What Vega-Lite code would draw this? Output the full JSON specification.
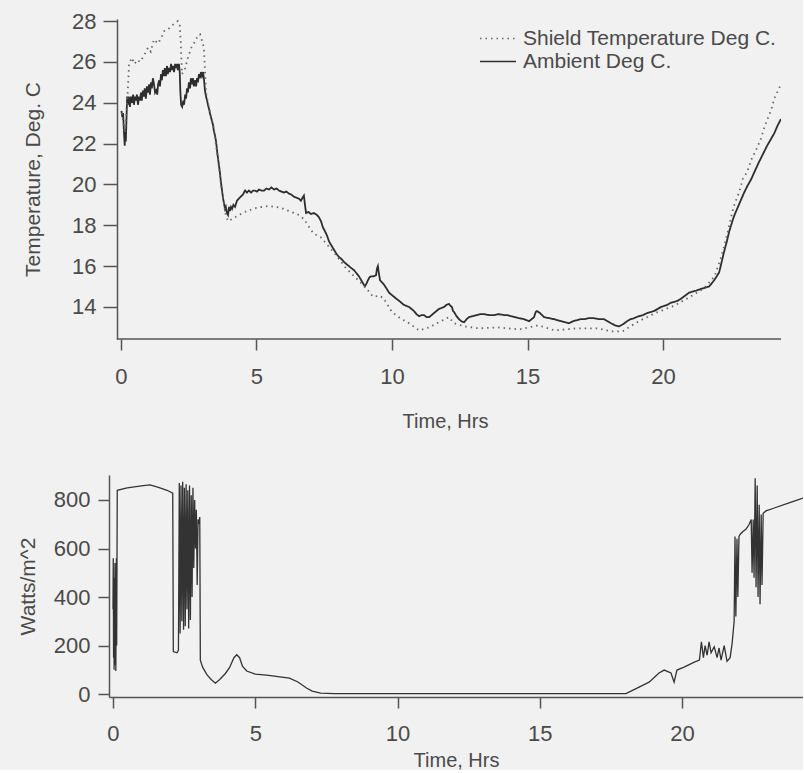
{
  "$schema": "https://vega.github.io/schema/vega-lite/v6.json",
  "background": "#f1f1f1",
  "padding": {"left": 17, "top": 10, "right": 0, "bottom": 0},
  "spacing": 44,
  "config": {
    "view": {"stroke": null},
    "font": "Liberation Sans",
    "axis": {
      "labelFont": "Liberation Sans", "titleFont": "Liberation Sans",
      "labelFontSize": 22, "titleFontSize": 20, "titleFontWeight": "normal",
      "labelColor": "#4a4a4a", "titleColor": "#4a4a4a",
      "domainColor": "#555555", "tickColor": "#555555",
      "domainWidth": 1.5, "tickWidth": 1.5, "tickSize": 11, "grid": false
    },
    "legend": {"labelFont": "Liberation Sans", "labelFontSize": 21, "labelColor": "#4a4a4a", "labelLimit": 0}
  },
  "datasets": {
    "temp": [
      {"t":0.02,"v":23.6,"s":"Ambient Deg C."},{"t":0.05,"v":23.3,"s":"Ambient Deg C."},{"t":0.08,"v":23.5,"s":"Ambient Deg C."},{"t":0.11,"v":22.6,"s":"Ambient Deg C."},{"t":0.14,"v":21.9,"s":"Ambient Deg C."},{"t":0.16,"v":22.7,"s":"Ambient Deg C."},{"t":0.18,"v":22.1,"s":"Ambient Deg C."},{"t":0.20,"v":23.0,"s":"Ambient Deg C."},{"t":0.23,"v":24.3,"s":"Ambient Deg C."},{"t":0.26,"v":23.9,"s":"Ambient Deg C."},{"t":0.29,"v":24.3,"s":"Ambient Deg C."},{"t":0.33,"v":23.8,"s":"Ambient Deg C."},{"t":0.37,"v":24.3,"s":"Ambient Deg C."},{"t":0.41,"v":24.0,"s":"Ambient Deg C."},{"t":0.45,"v":24.4,"s":"Ambient Deg C."},{"t":0.48,"v":23.9,"s":"Ambient Deg C."},{"t":0.52,"v":24.3,"s":"Ambient Deg C."},{"t":0.55,"v":24.1,"s":"Ambient Deg C."},{"t":0.59,"v":24.4,"s":"Ambient Deg C."},{"t":0.63,"v":23.9,"s":"Ambient Deg C."},{"t":0.67,"v":24.3,"s":"Ambient Deg C."},{"t":0.70,"v":24.1,"s":"Ambient Deg C."},{"t":0.74,"v":24.5,"s":"Ambient Deg C."},{"t":0.77,"v":24.1,"s":"Ambient Deg C."},{"t":0.81,"v":24.6,"s":"Ambient Deg C."},{"t":0.85,"v":24.3,"s":"Ambient Deg C."},{"t":0.88,"v":24.7,"s":"Ambient Deg C."},{"t":0.92,"v":24.2,"s":"Ambient Deg C."},{"t":0.96,"v":24.8,"s":"Ambient Deg C."},{"t":1.00,"v":24.5,"s":"Ambient Deg C."},{"t":1.04,"v":24.9,"s":"Ambient Deg C."},{"t":1.07,"v":24.4,"s":"Ambient Deg C."},{"t":1.11,"v":25.0,"s":"Ambient Deg C."},{"t":1.14,"v":24.7,"s":"Ambient Deg C."},{"t":1.18,"v":25.2,"s":"Ambient Deg C."},{"t":1.22,"v":24.9,"s":"Ambient Deg C."},{"t":1.26,"v":24.5,"s":"Ambient Deg C."},{"t":1.30,"v":24.6,"s":"Ambient Deg C."},{"t":1.34,"v":24.4,"s":"Ambient Deg C."},{"t":1.37,"v":24.9,"s":"Ambient Deg C."},{"t":1.41,"v":25.1,"s":"Ambient Deg C."},{"t":1.44,"v":24.8,"s":"Ambient Deg C."},{"t":1.48,"v":25.4,"s":"Ambient Deg C."},{"t":1.51,"v":25.1,"s":"Ambient Deg C."},{"t":1.55,"v":25.6,"s":"Ambient Deg C."},{"t":1.59,"v":25.3,"s":"Ambient Deg C."},{"t":1.62,"v":25.7,"s":"Ambient Deg C."},{"t":1.66,"v":25.3,"s":"Ambient Deg C."},{"t":1.70,"v":25.8,"s":"Ambient Deg C."},{"t":1.73,"v":25.4,"s":"Ambient Deg C."},{"t":1.77,"v":25.7,"s":"Ambient Deg C."},{"t":1.81,"v":25.5,"s":"Ambient Deg C."},{"t":1.85,"v":25.9,"s":"Ambient Deg C."},{"t":1.88,"v":25.6,"s":"Ambient Deg C."},{"t":1.92,"v":25.8,"s":"Ambient Deg C."},{"t":1.96,"v":25.5,"s":"Ambient Deg C."},{"t":2.00,"v":25.9,"s":"Ambient Deg C."},{"t":2.03,"v":25.7,"s":"Ambient Deg C."},{"t":2.07,"v":25.9,"s":"Ambient Deg C."},{"t":2.10,"v":25.6,"s":"Ambient Deg C."},{"t":2.14,"v":25.9,"s":"Ambient Deg C."},{"t":2.17,"v":25.5,"s":"Ambient Deg C."},{"t":2.19,"v":24.6,"s":"Ambient Deg C."},{"t":2.22,"v":23.9,"s":"Ambient Deg C."},{"t":2.26,"v":23.8,"s":"Ambient Deg C."},{"t":2.30,"v":24.1,"s":"Ambient Deg C."},{"t":2.33,"v":23.9,"s":"Ambient Deg C."},{"t":2.37,"v":24.4,"s":"Ambient Deg C."},{"t":2.40,"v":24.2,"s":"Ambient Deg C."},{"t":2.44,"v":24.7,"s":"Ambient Deg C."},{"t":2.47,"v":24.5,"s":"Ambient Deg C."},{"t":2.51,"v":25.0,"s":"Ambient Deg C."},{"t":2.55,"v":24.7,"s":"Ambient Deg C."},{"t":2.58,"v":25.2,"s":"Ambient Deg C."},{"t":2.62,"v":24.9,"s":"Ambient Deg C."},{"t":2.66,"v":25.2,"s":"Ambient Deg C."},{"t":2.69,"v":24.8,"s":"Ambient Deg C."},{"t":2.73,"v":25.1,"s":"Ambient Deg C."},{"t":2.77,"v":24.8,"s":"Ambient Deg C."},{"t":2.81,"v":25.2,"s":"Ambient Deg C."},{"t":2.84,"v":25.0,"s":"Ambient Deg C."},{"t":2.88,"v":25.4,"s":"Ambient Deg C."},{"t":2.92,"v":25.2,"s":"Ambient Deg C."},{"t":2.95,"v":25.5,"s":"Ambient Deg C."},{"t":2.99,"v":25.3,"s":"Ambient Deg C."},{"t":3.03,"v":25.5,"s":"Ambient Deg C."},{"t":3.06,"v":25.2,"s":"Ambient Deg C."},{"t":3.10,"v":24.6,"s":"Ambient Deg C."},{"t":3.14,"v":24.3,"s":"Ambient Deg C."},{"t":3.18,"v":24.1,"s":"Ambient Deg C."},{"t":3.21,"v":23.9,"s":"Ambient Deg C."},{"t":3.25,"v":23.7,"s":"Ambient Deg C."},{"t":3.28,"v":23.5,"s":"Ambient Deg C."},{"t":3.32,"v":23.3,"s":"Ambient Deg C."},{"t":3.36,"v":23.1,"s":"Ambient Deg C."},{"t":3.40,"v":22.9,"s":"Ambient Deg C."},{"t":3.43,"v":22.6,"s":"Ambient Deg C."},{"t":3.47,"v":22.4,"s":"Ambient Deg C."},{"t":3.51,"v":22.1,"s":"Ambient Deg C."},{"t":3.55,"v":21.6,"s":"Ambient Deg C."},{"t":3.58,"v":21.3,"s":"Ambient Deg C."},{"t":3.62,"v":20.9,"s":"Ambient Deg C."},{"t":3.65,"v":20.6,"s":"Ambient Deg C."},{"t":3.69,"v":20.1,"s":"Ambient Deg C."},{"t":3.73,"v":19.7,"s":"Ambient Deg C."},{"t":3.77,"v":19.3,"s":"Ambient Deg C."},{"t":3.80,"v":19.1,"s":"Ambient Deg C."},{"t":3.84,"v":18.8,"s":"Ambient Deg C."},{"t":3.87,"v":18.9,"s":"Ambient Deg C."},{"t":3.91,"v":18.6,"s":"Ambient Deg C."},{"t":3.95,"v":18.5,"s":"Ambient Deg C."},{"t":3.99,"v":18.9,"s":"Ambient Deg C."},{"t":4.02,"v":18.7,"s":"Ambient Deg C."},{"t":4.06,"v":18.9,"s":"Ambient Deg C."},{"t":4.10,"v":18.8,"s":"Ambient Deg C."},{"t":4.15,"v":19.0,"s":"Ambient Deg C."},{"t":4.21,"v":18.9,"s":"Ambient Deg C."},{"t":4.28,"v":19.2,"s":"Ambient Deg C."},{"t":4.35,"v":19.3,"s":"Ambient Deg C."},{"t":4.42,"v":19.4,"s":"Ambient Deg C."},{"t":4.50,"v":19.5,"s":"Ambient Deg C."},{"t":4.58,"v":19.7,"s":"Ambient Deg C."},{"t":4.65,"v":19.6,"s":"Ambient Deg C."},{"t":4.72,"v":19.7,"s":"Ambient Deg C."},{"t":4.80,"v":19.6,"s":"Ambient Deg C."},{"t":4.88,"v":19.7,"s":"Ambient Deg C."},{"t":4.94,"v":19.7,"s":"Ambient Deg C."},{"t":5.02,"v":19.65,"s":"Ambient Deg C."},{"t":5.09,"v":19.75,"s":"Ambient Deg C."},{"t":5.18,"v":19.7,"s":"Ambient Deg C."},{"t":5.28,"v":19.7,"s":"Ambient Deg C."},{"t":5.37,"v":19.8,"s":"Ambient Deg C."},{"t":5.46,"v":19.75,"s":"Ambient Deg C."},{"t":5.55,"v":19.85,"s":"Ambient Deg C."},{"t":5.65,"v":19.75,"s":"Ambient Deg C."},{"t":5.74,"v":19.8,"s":"Ambient Deg C."},{"t":5.83,"v":19.7,"s":"Ambient Deg C."},{"t":5.92,"v":19.65,"s":"Ambient Deg C."},{"t":6.01,"v":19.6,"s":"Ambient Deg C."},{"t":6.10,"v":19.65,"s":"Ambient Deg C."},{"t":6.20,"v":19.55,"s":"Ambient Deg C."},{"t":6.29,"v":19.5,"s":"Ambient Deg C."},{"t":6.38,"v":19.4,"s":"Ambient Deg C."},{"t":6.47,"v":19.35,"s":"Ambient Deg C."},{"t":6.57,"v":19.3,"s":"Ambient Deg C."},{"t":6.64,"v":19.2,"s":"Ambient Deg C."},{"t":6.70,"v":19.35,"s":"Ambient Deg C."},{"t":6.75,"v":19.45,"s":"Ambient Deg C."},{"t":6.79,"v":19.0,"s":"Ambient Deg C."},{"t":6.83,"v":18.6,"s":"Ambient Deg C."},{"t":6.92,"v":18.65,"s":"Ambient Deg C."},{"t":7.01,"v":18.55,"s":"Ambient Deg C."},{"t":7.12,"v":18.6,"s":"Ambient Deg C."},{"t":7.23,"v":18.5,"s":"Ambient Deg C."},{"t":7.30,"v":18.4,"s":"Ambient Deg C."},{"t":7.38,"v":18.2,"s":"Ambient Deg C."},{"t":7.45,"v":17.9,"s":"Ambient Deg C."},{"t":7.53,"v":17.7,"s":"Ambient Deg C."},{"t":7.60,"v":17.5,"s":"Ambient Deg C."},{"t":7.68,"v":17.2,"s":"Ambient Deg C."},{"t":7.77,"v":17.0,"s":"Ambient Deg C."},{"t":7.86,"v":16.8,"s":"Ambient Deg C."},{"t":7.95,"v":16.6,"s":"Ambient Deg C."},{"t":8.04,"v":16.45,"s":"Ambient Deg C."},{"t":8.13,"v":16.35,"s":"Ambient Deg C."},{"t":8.23,"v":16.2,"s":"Ambient Deg C."},{"t":8.32,"v":16.1,"s":"Ambient Deg C."},{"t":8.41,"v":16.0,"s":"Ambient Deg C."},{"t":8.50,"v":15.9,"s":"Ambient Deg C."},{"t":8.60,"v":15.8,"s":"Ambient Deg C."},{"t":8.69,"v":15.65,"s":"Ambient Deg C."},{"t":8.78,"v":15.5,"s":"Ambient Deg C."},{"t":8.89,"v":15.25,"s":"Ambient Deg C."},{"t":9.00,"v":15.0,"s":"Ambient Deg C."},{"t":9.06,"v":15.15,"s":"Ambient Deg C."},{"t":9.11,"v":15.3,"s":"Ambient Deg C."},{"t":9.17,"v":15.45,"s":"Ambient Deg C."},{"t":9.23,"v":15.5,"s":"Ambient Deg C."},{"t":9.32,"v":15.5,"s":"Ambient Deg C."},{"t":9.41,"v":15.55,"s":"Ambient Deg C."},{"t":9.45,"v":15.9,"s":"Ambient Deg C."},{"t":9.48,"v":16.0,"s":"Ambient Deg C."},{"t":9.52,"v":15.6,"s":"Ambient Deg C."},{"t":9.56,"v":15.3,"s":"Ambient Deg C."},{"t":9.63,"v":15.2,"s":"Ambient Deg C."},{"t":9.70,"v":15.1,"s":"Ambient Deg C."},{"t":9.80,"v":14.9,"s":"Ambient Deg C."},{"t":9.89,"v":14.7,"s":"Ambient Deg C."},{"t":9.98,"v":14.6,"s":"Ambient Deg C."},{"t":10.07,"v":14.5,"s":"Ambient Deg C."},{"t":10.16,"v":14.4,"s":"Ambient Deg C."},{"t":10.26,"v":14.3,"s":"Ambient Deg C."},{"t":10.35,"v":14.2,"s":"Ambient Deg C."},{"t":10.44,"v":14.1,"s":"Ambient Deg C."},{"t":10.53,"v":14.05,"s":"Ambient Deg C."},{"t":10.63,"v":14.0,"s":"Ambient Deg C."},{"t":10.72,"v":13.9,"s":"Ambient Deg C."},{"t":10.81,"v":13.8,"s":"Ambient Deg C."},{"t":10.90,"v":13.65,"s":"Ambient Deg C."},{"t":11.00,"v":13.55,"s":"Ambient Deg C."},{"t":11.09,"v":13.6,"s":"Ambient Deg C."},{"t":11.18,"v":13.6,"s":"Ambient Deg C."},{"t":11.28,"v":13.5,"s":"Ambient Deg C."},{"t":11.37,"v":13.5,"s":"Ambient Deg C."},{"t":11.46,"v":13.6,"s":"Ambient Deg C."},{"t":11.55,"v":13.7,"s":"Ambient Deg C."},{"t":11.64,"v":13.8,"s":"Ambient Deg C."},{"t":11.73,"v":13.9,"s":"Ambient Deg C."},{"t":11.83,"v":13.95,"s":"Ambient Deg C."},{"t":11.92,"v":14.0,"s":"Ambient Deg C."},{"t":12.01,"v":14.1,"s":"Ambient Deg C."},{"t":12.10,"v":14.15,"s":"Ambient Deg C."},{"t":12.16,"v":14.05,"s":"Ambient Deg C."},{"t":12.21,"v":14.0,"s":"Ambient Deg C."},{"t":12.25,"v":13.8,"s":"Ambient Deg C."},{"t":12.29,"v":13.75,"s":"Ambient Deg C."},{"t":12.38,"v":13.55,"s":"Ambient Deg C."},{"t":12.47,"v":13.4,"s":"Ambient Deg C."},{"t":12.56,"v":13.3,"s":"Ambient Deg C."},{"t":12.66,"v":13.25,"s":"Ambient Deg C."},{"t":12.75,"v":13.4,"s":"Ambient Deg C."},{"t":12.84,"v":13.5,"s":"Ambient Deg C."},{"t":12.99,"v":13.55,"s":"Ambient Deg C."},{"t":13.14,"v":13.6,"s":"Ambient Deg C."},{"t":13.27,"v":13.65,"s":"Ambient Deg C."},{"t":13.39,"v":13.65,"s":"Ambient Deg C."},{"t":13.58,"v":13.6,"s":"Ambient Deg C."},{"t":13.76,"v":13.6,"s":"Ambient Deg C."},{"t":13.95,"v":13.65,"s":"Ambient Deg C."},{"t":14.13,"v":13.6,"s":"Ambient Deg C."},{"t":14.26,"v":13.6,"s":"Ambient Deg C."},{"t":14.39,"v":13.55,"s":"Ambient Deg C."},{"t":14.54,"v":13.5,"s":"Ambient Deg C."},{"t":14.69,"v":13.45,"s":"Ambient Deg C."},{"t":14.87,"v":13.4,"s":"Ambient Deg C."},{"t":15.06,"v":13.3,"s":"Ambient Deg C."},{"t":15.15,"v":13.4,"s":"Ambient Deg C."},{"t":15.24,"v":13.5,"s":"Ambient Deg C."},{"t":15.30,"v":13.75,"s":"Ambient Deg C."},{"t":15.35,"v":13.8,"s":"Ambient Deg C."},{"t":15.46,"v":13.7,"s":"Ambient Deg C."},{"t":15.61,"v":13.5,"s":"Ambient Deg C."},{"t":15.80,"v":13.45,"s":"Ambient Deg C."},{"t":15.98,"v":13.4,"s":"Ambient Deg C."},{"t":16.11,"v":13.35,"s":"Ambient Deg C."},{"t":16.24,"v":13.3,"s":"Ambient Deg C."},{"t":16.38,"v":13.25,"s":"Ambient Deg C."},{"t":16.53,"v":13.2,"s":"Ambient Deg C."},{"t":16.68,"v":13.3,"s":"Ambient Deg C."},{"t":16.83,"v":13.35,"s":"Ambient Deg C."},{"t":16.95,"v":13.4,"s":"Ambient Deg C."},{"t":17.08,"v":13.4,"s":"Ambient Deg C."},{"t":17.27,"v":13.45,"s":"Ambient Deg C."},{"t":17.45,"v":13.45,"s":"Ambient Deg C."},{"t":17.64,"v":13.4,"s":"Ambient Deg C."},{"t":17.82,"v":13.4,"s":"Ambient Deg C."},{"t":17.95,"v":13.3,"s":"Ambient Deg C."},{"t":18.08,"v":13.2,"s":"Ambient Deg C."},{"t":18.23,"v":13.1,"s":"Ambient Deg C."},{"t":18.38,"v":13.05,"s":"Ambient Deg C."},{"t":18.52,"v":13.15,"s":"Ambient Deg C."},{"t":18.67,"v":13.3,"s":"Ambient Deg C."},{"t":18.80,"v":13.4,"s":"Ambient Deg C."},{"t":18.93,"v":13.45,"s":"Ambient Deg C."},{"t":19.02,"v":13.5,"s":"Ambient Deg C."},{"t":19.11,"v":13.55,"s":"Ambient Deg C."},{"t":19.26,"v":13.6,"s":"Ambient Deg C."},{"t":19.41,"v":13.7,"s":"Ambient Deg C."},{"t":19.54,"v":13.75,"s":"Ambient Deg C."},{"t":19.67,"v":13.8,"s":"Ambient Deg C."},{"t":19.80,"v":13.9,"s":"Ambient Deg C."},{"t":19.93,"v":14.0,"s":"Ambient Deg C."},{"t":20.04,"v":14.05,"s":"Ambient Deg C."},{"t":20.15,"v":14.1,"s":"Ambient Deg C."},{"t":20.28,"v":14.2,"s":"Ambient Deg C."},{"t":20.41,"v":14.25,"s":"Ambient Deg C."},{"t":20.54,"v":14.3,"s":"Ambient Deg C."},{"t":20.66,"v":14.4,"s":"Ambient Deg C."},{"t":20.81,"v":14.55,"s":"Ambient Deg C."},{"t":20.96,"v":14.7,"s":"Ambient Deg C."},{"t":21.09,"v":14.75,"s":"Ambient Deg C."},{"t":21.22,"v":14.8,"s":"Ambient Deg C."},{"t":21.33,"v":14.85,"s":"Ambient Deg C."},{"t":21.44,"v":14.9,"s":"Ambient Deg C."},{"t":21.57,"v":14.95,"s":"Ambient Deg C."},{"t":21.70,"v":15.0,"s":"Ambient Deg C."},{"t":21.79,"v":15.15,"s":"Ambient Deg C."},{"t":21.88,"v":15.3,"s":"Ambient Deg C."},{"t":21.98,"v":15.5,"s":"Ambient Deg C."},{"t":22.07,"v":15.7,"s":"Ambient Deg C."},{"t":22.16,"v":16.2,"s":"Ambient Deg C."},{"t":22.25,"v":16.7,"s":"Ambient Deg C."},{"t":22.35,"v":17.2,"s":"Ambient Deg C."},{"t":22.44,"v":17.7,"s":"Ambient Deg C."},{"t":22.51,"v":18.0,"s":"Ambient Deg C."},{"t":22.58,"v":18.3,"s":"Ambient Deg C."},{"t":22.65,"v":18.55,"s":"Ambient Deg C."},{"t":22.73,"v":18.8,"s":"Ambient Deg C."},{"t":22.86,"v":19.2,"s":"Ambient Deg C."},{"t":22.99,"v":19.6,"s":"Ambient Deg C."},{"t":23.12,"v":19.95,"s":"Ambient Deg C."},{"t":23.25,"v":20.25,"s":"Ambient Deg C."},{"t":23.40,"v":20.7,"s":"Ambient Deg C."},{"t":23.54,"v":21.1,"s":"Ambient Deg C."},{"t":23.69,"v":21.5,"s":"Ambient Deg C."},{"t":23.84,"v":21.9,"s":"Ambient Deg C."},{"t":23.97,"v":22.2,"s":"Ambient Deg C."},{"t":24.10,"v":22.5,"s":"Ambient Deg C."},{"t":24.23,"v":22.9,"s":"Ambient Deg C."},{"t":24.35,"v":23.2,"s":"Ambient Deg C."},
      {"t":0.03,"v":23.5,"s":"Shield Temperature Deg C."},{"t":0.15,"v":22.5,"s":"Shield Temperature Deg C."},{"t":0.25,"v":24.5,"s":"Shield Temperature Deg C."},{"t":0.30,"v":25.9,"s":"Shield Temperature Deg C."},{"t":0.40,"v":26.2,"s":"Shield Temperature Deg C."},{"t":0.50,"v":25.9,"s":"Shield Temperature Deg C."},{"t":0.60,"v":26.1,"s":"Shield Temperature Deg C."},{"t":0.70,"v":26.0,"s":"Shield Temperature Deg C."},{"t":0.85,"v":26.3,"s":"Shield Temperature Deg C."},{"t":1.00,"v":26.7,"s":"Shield Temperature Deg C."},{"t":1.10,"v":26.5,"s":"Shield Temperature Deg C."},{"t":1.22,"v":27.1,"s":"Shield Temperature Deg C."},{"t":1.37,"v":26.9,"s":"Shield Temperature Deg C."},{"t":1.50,"v":27.2,"s":"Shield Temperature Deg C."},{"t":1.59,"v":27.5,"s":"Shield Temperature Deg C."},{"t":1.75,"v":27.6,"s":"Shield Temperature Deg C."},{"t":1.85,"v":27.75,"s":"Shield Temperature Deg C."},{"t":2.00,"v":27.9,"s":"Shield Temperature Deg C."},{"t":2.10,"v":28.0,"s":"Shield Temperature Deg C."},{"t":2.17,"v":27.8,"s":"Shield Temperature Deg C."},{"t":2.21,"v":26.9,"s":"Shield Temperature Deg C."},{"t":2.25,"v":25.4,"s":"Shield Temperature Deg C."},{"t":2.35,"v":25.6,"s":"Shield Temperature Deg C."},{"t":2.47,"v":26.2,"s":"Shield Temperature Deg C."},{"t":2.60,"v":26.7,"s":"Shield Temperature Deg C."},{"t":2.69,"v":26.9,"s":"Shield Temperature Deg C."},{"t":2.85,"v":27.3,"s":"Shield Temperature Deg C."},{"t":2.92,"v":27.35,"s":"Shield Temperature Deg C."},{"t":3.00,"v":27.0,"s":"Shield Temperature Deg C."},{"t":3.06,"v":26.7,"s":"Shield Temperature Deg C."},{"t":3.14,"v":24.5,"s":"Shield Temperature Deg C."},{"t":3.21,"v":24.0,"s":"Shield Temperature Deg C."},{"t":3.30,"v":23.5,"s":"Shield Temperature Deg C."},{"t":3.43,"v":22.7,"s":"Shield Temperature Deg C."},{"t":3.58,"v":21.2,"s":"Shield Temperature Deg C."},{"t":3.73,"v":19.6,"s":"Shield Temperature Deg C."},{"t":3.87,"v":18.5,"s":"Shield Temperature Deg C."},{"t":3.95,"v":18.2,"s":"Shield Temperature Deg C."},{"t":4.10,"v":18.3,"s":"Shield Temperature Deg C."},{"t":4.35,"v":18.5,"s":"Shield Temperature Deg C."},{"t":4.65,"v":18.7,"s":"Shield Temperature Deg C."},{"t":5.00,"v":18.85,"s":"Shield Temperature Deg C."},{"t":5.46,"v":18.95,"s":"Shield Temperature Deg C."},{"t":5.90,"v":18.85,"s":"Shield Temperature Deg C."},{"t":6.20,"v":18.7,"s":"Shield Temperature Deg C."},{"t":6.57,"v":18.5,"s":"Shield Temperature Deg C."},{"t":6.75,"v":18.3,"s":"Shield Temperature Deg C."},{"t":7.10,"v":17.6,"s":"Shield Temperature Deg C."},{"t":7.38,"v":17.4,"s":"Shield Temperature Deg C."},{"t":7.90,"v":16.6,"s":"Shield Temperature Deg C."},{"t":8.30,"v":15.9,"s":"Shield Temperature Deg C."},{"t":8.60,"v":15.5,"s":"Shield Temperature Deg C."},{"t":9.00,"v":15.0,"s":"Shield Temperature Deg C."},{"t":9.30,"v":14.5,"s":"Shield Temperature Deg C."},{"t":9.55,"v":14.55,"s":"Shield Temperature Deg C."},{"t":9.70,"v":14.4,"s":"Shield Temperature Deg C."},{"t":10.00,"v":13.75,"s":"Shield Temperature Deg C."},{"t":10.30,"v":13.45,"s":"Shield Temperature Deg C."},{"t":10.63,"v":13.2,"s":"Shield Temperature Deg C."},{"t":11.00,"v":12.85,"s":"Shield Temperature Deg C."},{"t":11.37,"v":13.0,"s":"Shield Temperature Deg C."},{"t":11.73,"v":13.25,"s":"Shield Temperature Deg C."},{"t":12.10,"v":13.5,"s":"Shield Temperature Deg C."},{"t":12.29,"v":13.2,"s":"Shield Temperature Deg C."},{"t":12.66,"v":13.05,"s":"Shield Temperature Deg C."},{"t":13.20,"v":12.95,"s":"Shield Temperature Deg C."},{"t":13.90,"v":13.0,"s":"Shield Temperature Deg C."},{"t":14.70,"v":12.9,"s":"Shield Temperature Deg C."},{"t":15.40,"v":13.1,"s":"Shield Temperature Deg C."},{"t":16.00,"v":12.85,"s":"Shield Temperature Deg C."},{"t":16.80,"v":12.95,"s":"Shield Temperature Deg C."},{"t":17.60,"v":12.95,"s":"Shield Temperature Deg C."},{"t":18.10,"v":12.8,"s":"Shield Temperature Deg C."},{"t":18.50,"v":12.8,"s":"Shield Temperature Deg C."},{"t":19.10,"v":13.3,"s":"Shield Temperature Deg C."},{"t":19.80,"v":13.75,"s":"Shield Temperature Deg C."},{"t":20.40,"v":14.05,"s":"Shield Temperature Deg C."},{"t":21.00,"v":14.5,"s":"Shield Temperature Deg C."},{"t":21.50,"v":14.9,"s":"Shield Temperature Deg C."},{"t":21.90,"v":15.5,"s":"Shield Temperature Deg C."},{"t":22.12,"v":16.35,"s":"Shield Temperature Deg C."},{"t":22.30,"v":17.2,"s":"Shield Temperature Deg C."},{"t":22.44,"v":18.0,"s":"Shield Temperature Deg C."},{"t":22.60,"v":18.9,"s":"Shield Temperature Deg C."},{"t":22.80,"v":19.6,"s":"Shield Temperature Deg C."},{"t":22.95,"v":20.3,"s":"Shield Temperature Deg C."},{"t":23.10,"v":20.6,"s":"Shield Temperature Deg C."},{"t":23.25,"v":21.2,"s":"Shield Temperature Deg C."},{"t":23.40,"v":21.6,"s":"Shield Temperature Deg C."},{"t":23.60,"v":22.2,"s":"Shield Temperature Deg C."},{"t":23.75,"v":22.85,"s":"Shield Temperature Deg C."},{"t":24.00,"v":23.7,"s":"Shield Temperature Deg C."},{"t":24.10,"v":24.2,"s":"Shield Temperature Deg C."},{"t":24.35,"v":24.9,"s":"Shield Temperature Deg C."}
    ],
    "solar": [
      {"t":0.00,"w":350},{"t":0.01,"w":560},{"t":0.02,"w":150},{"t":0.03,"w":480},{"t":0.04,"w":100},{"t":0.05,"w":420},{"t":0.06,"w":180},{"t":0.07,"w":540},{"t":0.08,"w":120},{"t":0.09,"w":380},{"t":0.10,"w":95},{"t":0.11,"w":300},{"t":0.12,"w":560},{"t":0.13,"w":200},{"t":0.15,"w":840},
      {"t":0.5,"w":850},{"t":1.0,"w":858},{"t":1.3,"w":862},{"t":1.6,"w":852},{"t":1.9,"w":840},{"t":2.1,"w":828},{"t":2.12,"w":175},{"t":2.25,"w":170},{"t":2.30,"w":180},
      {"t":2.33,"w":870},{"t":2.36,"w":250},{"t":2.39,"w":860},{"t":2.42,"w":300},{"t":2.45,"w":875},{"t":2.48,"w":265},{"t":2.51,"w":850},{"t":2.54,"w":280},{"t":2.57,"w":865},{"t":2.60,"w":350},{"t":2.63,"w":840},{"t":2.66,"w":270},{"t":2.69,"w":860},{"t":2.72,"w":305},{"t":2.75,"w":820},{"t":2.78,"w":400},{"t":2.81,"w":850},{"t":2.84,"w":520},{"t":2.87,"w":800},{"t":2.90,"w":600},{"t":2.93,"w":760},{"t":2.96,"w":450},{"t":2.99,"w":720},{"t":3.02,"w":700},{"t":3.05,"w":730},{"t":3.07,"w":140},
      {"t":3.15,"w":111},{"t":3.3,"w":80},{"t":3.45,"w":60},{"t":3.6,"w":45},{"t":3.75,"w":60},{"t":3.95,"w":85},{"t":4.1,"w":110},{"t":4.25,"w":150},{"t":4.35,"w":162},{"t":4.45,"w":150},{"t":4.55,"w":115},{"t":4.7,"w":95},{"t":5.0,"w":82},{"t":5.4,"w":78},{"t":5.8,"w":72},{"t":6.2,"w":66},{"t":6.5,"w":50},{"t":6.8,"w":25},{"t":7.0,"w":12},{"t":7.3,"w":4},{"t":7.8,"w":2},{"t":12.0,"w":2},{"t":18.03,"w":2},
      {"t":18.49,"w":29},{"t":18.84,"w":49},{"t":19.19,"w":87},{"t":19.37,"w":99},{"t":19.61,"w":87},{"t":19.72,"w":49},{"t":19.82,"w":99},{"t":20.07,"w":111},{"t":20.43,"w":132},{"t":20.61,"w":140},{"t":20.68,"w":215},{"t":20.75,"w":150},{"t":20.81,"w":200},{"t":20.88,"w":160},{"t":20.95,"w":215},{"t":21.02,"w":170},{"t":21.13,"w":195},{"t":21.23,"w":150},{"t":21.30,"w":190},{"t":21.37,"w":140},{"t":21.48,"w":200},{"t":21.58,"w":135},{"t":21.69,"w":150},{"t":21.76,"w":210},{"t":21.83,"w":300},{"t":21.86,"w":650},{"t":21.89,"w":320},{"t":21.93,"w":640},{"t":21.96,"w":400},{"t":22.00,"w":650},{"t":22.05,"w":660},{"t":22.14,"w":670},{"t":22.25,"w":680},{"t":22.36,"w":700},{"t":22.43,"w":720},{"t":22.46,"w":500},{"t":22.50,"w":720},{"t":22.53,"w":480},{"t":22.57,"w":890},{"t":22.60,"w":440},{"t":22.64,"w":860},{"t":22.67,"w":400},{"t":22.71,"w":780},{"t":22.74,"w":370},{"t":22.78,"w":740},{"t":22.81,"w":450},{"t":22.85,"w":745},{"t":22.95,"w":755},{"t":23.24,"w":767},{"t":23.76,"w":788},{"t":24.25,"w":808}
    ]
  },
  "vconcat": [
    {
      "width": 672, "height": 320,
      "layer": [
        {
          "data": {"name": "temp"},
          "mark": {"type": "line", "strokeWidth": 1.8, "clip": true},
          "encoding": {
            "x": {"field": "t", "type": "quantitative", "scale": {"domain": [-0.44, 24.35], "nice": false, "zero": false},
                  "axis": {"values": [0, 5, 10, 15, 20], "domain": false, "title": "Time, Hrs", "labelPadding": 16, "titlePadding": 24}},
            "y": {"field": "v", "type": "quantitative", "scale": {"domain": [12.43, 28.1], "nice": false, "zero": false},
                  "axis": {"values": [14, 16, 18, 20, 22, 24, 26, 28], "offset": -8, "tickSize": 14, "labelPadding": 7, "title": "Temperature, Deg. C", "titleFontSize": 21, "titlePadding": 28}},
            "color": {"field": "s", "type": "nominal",
                      "scale": {"domain": ["Shield Temperature Deg C.", "Ambient Deg C."], "range": ["#666666", "#2e2e2e"]},
                      "legend": {"title": null, "orient": "none", "legendX": 370, "legendY": 8, "symbolType": "stroke", "symbolSize": 1296, "symbolStrokeWidth": 1.6, "rowPadding": 0, "clipHeight": 23, "labelOffset": 6, "labelLimit": 0}},
            "strokeDash": {"field": "s", "type": "nominal",
                      "scale": {"domain": ["Shield Temperature Deg C.", "Ambient Deg C."], "range": [[1.5, 4], [1, 0]]},
                      "legend": {"title": null, "orient": "none", "legendX": 370, "legendY": 8, "symbolType": "stroke", "symbolSize": 1296, "symbolStrokeWidth": 1.6, "rowPadding": 0, "clipHeight": 23, "labelOffset": 6, "labelLimit": 0}}
          }
        },
        {
          "data": {"values": [{}]},
          "mark": {"type": "rule", "color": "#555555", "strokeWidth": 1.5},
          "encoding": {"x": {"datum": -0.15}, "x2": {"datum": 24.35}, "y": {"datum": 12.43}}
        }
      ]
    },
    {
      "width": 694, "height": 222,
      "data": {"name": "solar"},
      "mark": {"type": "line", "color": "#333333", "strokeWidth": 1.3, "clip": true},
      "encoding": {
        "x": {"field": "t", "type": "quantitative", "scale": {"domain": [-0.14, 24.25], "nice": false, "zero": false},
              "axis": {"values": [0, 5, 10, 15, 20], "title": "Time, Hrs", "labelPadding": 15, "titlePadding": 6}},
        "y": {"field": "w", "type": "quantitative", "scale": {"domain": [-12, 903], "nice": false, "zero": false},
              "axis": {"values": [0, 200, 400, 600, 800], "labelPadding": 8, "title": "Watts/m^2", "titleFontSize": 21, "titlePadding": 15}}
      }
    }
  ]
}
